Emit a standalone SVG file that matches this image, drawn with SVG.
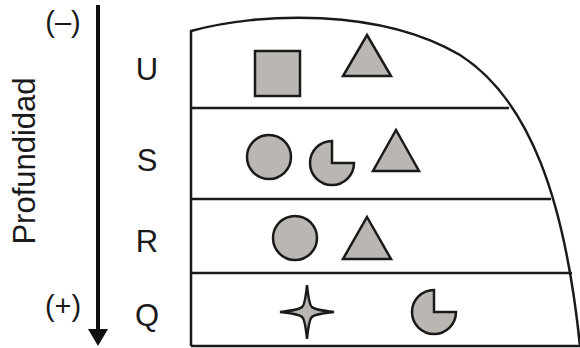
<svg xmlns="http://www.w3.org/2000/svg" width="580" height="348" viewBox="0 0 580 348">
<style>
.t{font-family:"Liberation Sans",Arial,sans-serif;fill:#1a1a1a}
.lbl{font-size:31px}
.sg{font-size:29px}
.sh{fill:#bab7b2;stroke:#1a1a1a;stroke-width:2.5;stroke-linejoin:miter}
.ln{fill:none;stroke:#1a1a1a;stroke-width:2.5}
</style>
<rect width="580" height="348" fill="#fff"/>
<g id="axis">
<line x1="98" y1="5" x2="98" y2="332" stroke="#111" stroke-width="4"/>
<polygon points="88,329 108,329 98,346" fill="#111"/>
<text class="t sg" x="63" y="32" text-anchor="middle">(–)</text>
<text class="t sg" x="63" y="316" text-anchor="middle">(+)</text>
<text class="t" style="font-size:31px" transform="translate(35,161) rotate(-90)" text-anchor="middle">Profundidad</text>
</g>
<g id="frame">
<path class="ln" d="M191,346 L191,31 C260,12 380,8 460,55 C530,100 565,200 580,346"/>
<line class="ln" x1="191" y1="108" x2="509" y2="108"/>
<line class="ln" x1="191" y1="199" x2="551" y2="199"/>
<line class="ln" x1="191" y1="273" x2="572" y2="273"/>
<line class="ln" x1="191" y1="346" x2="580" y2="346"/>
</g>
<g id="layer-U">
<text class="t lbl" x="147" y="80" text-anchor="middle">U</text>
<rect class="sh" x="255" y="51" width="45" height="45"/>
<polygon class="sh" points="367,35 391,76 343,76"/>
</g>
<g id="layer-S">
<text class="t lbl" x="147" y="171" text-anchor="middle">S</text>
<circle class="sh" cx="269" cy="157" r="22"/>
<path class="sh" d="M332,163 L332,141 A22,22 0 1 0 354,163 Z"/>
<polygon class="sh" points="396,130 419,171 373,171"/>
</g>
<g id="layer-R">
<text class="t lbl" x="147" y="252" text-anchor="middle">R</text>
<circle class="sh" cx="295" cy="238" r="22"/>
<polygon class="sh" points="367,217 391,259 343,259"/>
</g>
<g id="layer-Q">
<text class="t lbl" x="147" y="326" text-anchor="middle">Q</text>
<path class="sh" d="M307,285 Q309,305 312,307 Q315,310 334,312 Q315,314 312,317 Q309,319 307,339 Q305,319 302,317 Q299,314 280,312 Q299,310 302,307 Q305,305 307,285 Z"/>
<path class="sh" d="M434,312 L434,290 A22,22 0 1 0 456,312 Z"/>
</g>
</svg>
